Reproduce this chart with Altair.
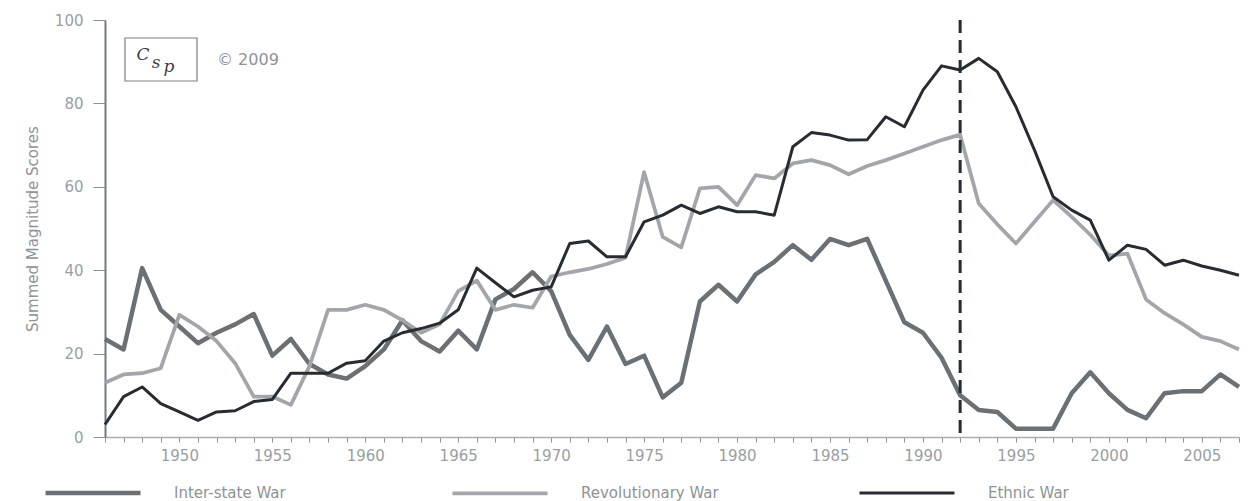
import altair as alt
import pandas as pd

# Years covered by the series
years = list(range(1946, 2008))

# Summed magnitude scores per year
inter_state = [23.5, 21, 40.5, 30.5, 26.5, 22.5, 25, 27, 29.5, 19.5,      # 1946-1955
               23.5, 17.5, 15, 14, 17, 21, 28, 23, 20.5, 25.5,          # 1956-1965
               21, 33, 35.5, 39.5, 35, 24.5, 18.5, 26.5, 17.5, 19.5,     # 1966-1975
               9.5, 13, 32.5, 36.5, 32.5, 39, 42, 46, 42.5, 47.5,        # 1976-1985
               46, 47.5, 37.5, 27.5, 25, 19, 10, 6.5, 6, 2,              # 1986-1995
               2, 2, 10.5, 15.5, 10.5, 6.5, 4.5, 10.5, 11, 11,           # 1996-2005
               15, 12]                                                    # 2006-2007

revolutionary = [13, 15, 15.3, 16.5, 29.3, 26.5, 23, 17.7, 9.7, 9.7,
                 7.7, 17, 30.5, 30.5, 31.7, 30.5, 28, 25, 27, 35,
                 37.5, 30.5, 31.7, 31, 38.5, 39.5, 40.3, 41.5, 43, 63.5,
                 48, 45.5, 59.6, 60, 55.6, 62.8, 62, 65.6, 66.4, 65.2,
                 63, 65, 66.4, 68, 69.6, 71.2, 72.5, 56, 51, 46.4,
                 51.6, 56.8, 52.8, 48.5, 43.5, 44, 33, 29.7, 27, 24,
                 23, 21]

ethnic = [3, 9.7, 12, 8, 6, 4, 6, 6.3, 8.5, 9,
          15.3, 15.3, 15.3, 17.7, 18.3, 23, 25, 26, 27.3, 30.5,
          40.5, 37, 33.6, 35.2, 36, 46.4, 47, 43.2, 43.2, 51.6,
          53.2, 55.6, 53.6, 55.2, 54, 54, 53.2, 69.6, 73, 72.4,
          71.2, 71.3, 76.8, 74.4, 83.2, 89, 88, 90.8, 87.6, 79.2,
          68.8, 57.6, 54.4, 52, 42.4, 46, 45, 41.2, 42.4, 41,
          40, 38.8]

series_names = ["Inter-state War", "Revolutionary War", "Ethnic War"]
series_colors = ["#6b7075", "#a2a6aa", "#262c31"]
series_widths = [4.5, 3, 4.5]

# End of the Cold War marker
marker_year = [1992]

y_ticks = [0, 20, 40, 60, 80, 100]

rows = []
for name, vals in zip(series_names, [inter_state, revolutionary, ethnic]):
    for yr, v in zip(years, vals):
        rows.append({"year": yr, "score": v, "series": name})
df = pd.DataFrame(rows)

label_font = "DejaVu Sans"
label_color = "#9a9ea3"

x_axis = alt.Axis(
    values=years,
    tickCount=len(years),
    labelExpr="datum.value % 5 == 0 ? '' + datum.value : ''",
    title=None,
    tickSize=5,
    labelPadding=6,
    labelFont=label_font,
    labelFontSize=15,
    labelColor=label_color,
    domainColor="#a9aeb3",
    domainWidth=1.5,
    tickColor="#8d9297",
    grid=False,
    labelOverlap=False,
)

y_axis = alt.Axis(
    values=y_ticks,
    title="Summed Magnitude Scores",
    titleFont=label_font,
    titleFontSize=15,
    titleFontWeight="normal",
    titleColor="#8e9398",
    titlePadding=14,
    tickSize=12,
    labelPadding=10,
    labelFont=label_font,
    labelFontSize=15,
    labelColor=label_color,
    domainColor="#707a83",
    domainWidth=2,
    tickColor="#8d9297",
    grid=False,
)

legend = alt.Legend(
    orient="none",
    legendX=-62,
    legendY=423,
    direction="horizontal",
    columns=3,
    gridAlign="all",
    columnPadding=133,
    title=None,
    symbolType="stroke",
    symbolSize=9025,
    labelFont=label_font,
    labelFontSize=15,
    labelColor="#8e9398",
    labelOffset=31,
)

lines = alt.Chart(df).mark_line(strokeJoin="round").encode(
    x=alt.X("year:Q", scale=alt.Scale(domain=[1946, 2007], nice=False, zero=False), axis=x_axis),
    y=alt.Y("score:Q", scale=alt.Scale(domain=[0, 100], nice=False), axis=y_axis),
    color=alt.Color("series:N", scale=alt.Scale(domain=series_names, range=series_colors),
                    sort=series_names, legend=legend),
    strokeWidth=alt.StrokeWidth("series:N", scale=alt.Scale(domain=series_names, range=series_widths),
                                sort=series_names, legend=legend),
    detail="series:N",
)

marker = alt.Chart(pd.DataFrame({"year": marker_year})).mark_rule(
    color="#262c31", strokeWidth=3, strokeDash=[13, 7]
).encode(x="year:Q")

# CSP logo box and copyright note in the top-left corner
logo_box = alt.Chart(pd.DataFrame({"k": [0]})).mark_rect(
    fill="white", stroke="#7d8287", strokeWidth=1.2
).encode(x=alt.value(20), x2=alt.value(92), y=alt.value(18), y2=alt.value(61))

logo_letters = pd.DataFrame({"t": ["C", "s", "p"], "dx": [38, 51, 64], "dy": [35, 43, 47]})
logo_text = alt.Chart(logo_letters).mark_text(
    font="DejaVu Serif", fontSize=17, fontStyle="italic", color="#3a3f44", align="center", baseline="middle"
).encode(x=alt.X("dx:Q", scale=None), y=alt.Y("dy:Q", scale=None), text="t:N")

copyright_text = alt.Chart(pd.DataFrame({"t": ["\u00a9 2009"]})).mark_text(
    font=label_font, fontSize=16, color="#8e9398", align="left", baseline="middle"
).encode(x=alt.value(112), y=alt.value(40), text="t:N")

chart = alt.layer(lines, marker, logo_box, logo_text, copyright_text).properties(
    width=1134,
    height=417,
    autosize="none",
    padding={"left": 105, "top": 20, "right": 10, "bottom": 64},
    background="white",
).configure_view(stroke=None)

chart.save("out.html", embed_options={"renderer": "svg", "actions": False})
